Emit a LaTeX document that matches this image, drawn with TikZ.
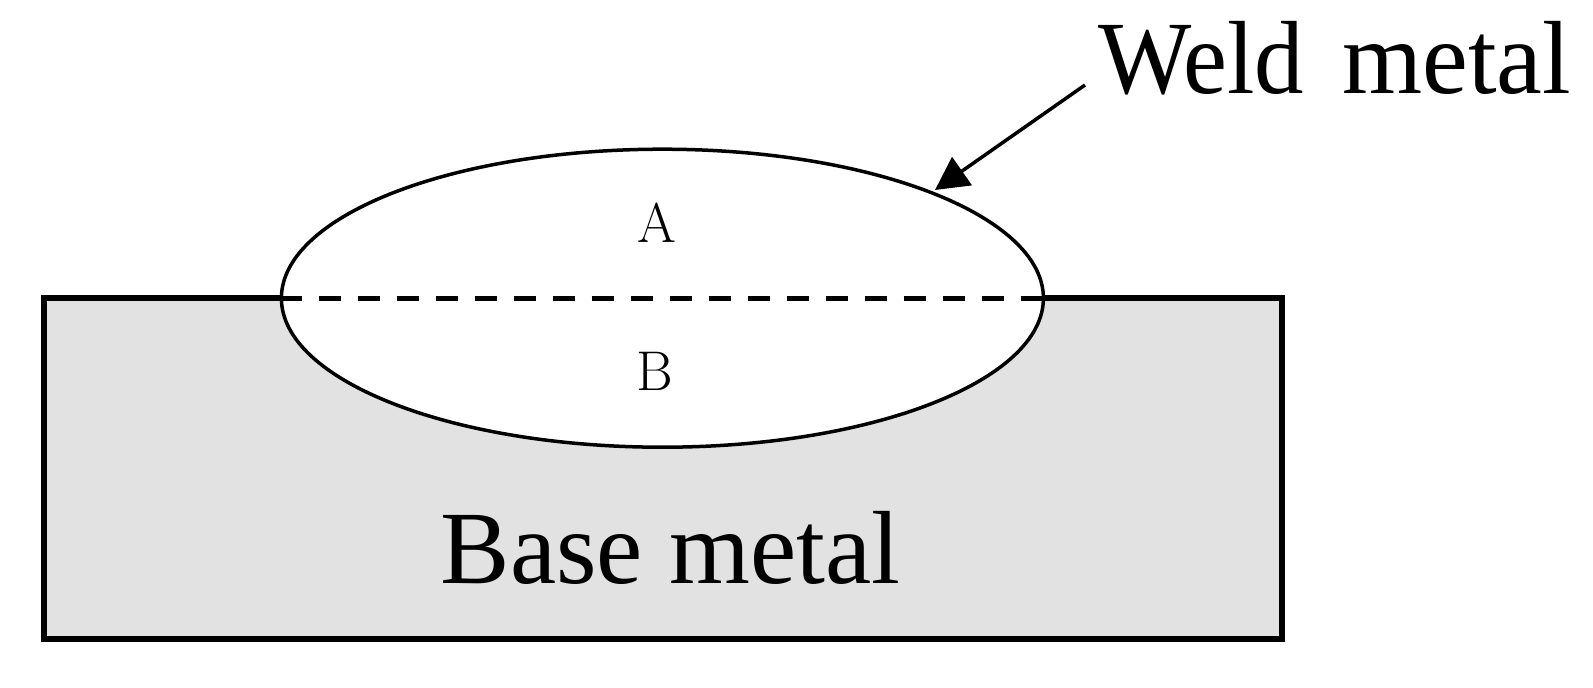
\documentclass[tikz,border=0pt]{standalone}
\usepackage{fontspec}
\usepackage{graphicx}
\newfontfamily\timesfont{Liberation Serif}
\usetikzlibrary{arrows.meta,shapes.geometric}
\definecolor{basegray}{RGB}{226,226,226}
\tikzset{
  basebox/.style={draw=black, line width=5.5pt, fill=basegray, minimum width=1238pt, minimum height=341pt, inner sep=0pt},
  weldshape/.style={ellipse, draw=black, line width=3.5pt, fill=white, minimum width=762pt, minimum height=298pt, inner sep=0pt},
  bigtext/.style={font=\timesfont\fontsize{104}{110}\selectfont, inner sep=0pt},
  zonetext/.style={font=\fontsize{56}{60}\selectfont, inner sep=0pt},
  pointer/.style={line width=3.5pt, -{Triangle[length=33pt,width=34pt]}}
}
\begin{document}
\begin{tikzpicture}[x=1pt,y=-1pt]
\useasboundingbox (0,0) rectangle (1593,688);
\node[basebox] (base) at (663,468.5) {};
\node[weldshape] (weld) at (662.4,298.2) {};
\draw[line width=5pt, dash pattern=on 22pt off 17pt] (weld.west) -- (weld.east);
\node[zonetext, anchor=base] (A) at (657,242) {A};
\node[zonetext, anchor=base] (B) at (655,390) {B};
\node[bigtext, anchor=base] (basel) at (670.5,583) {Base metal};
\node[bigtext, anchor=base west] (weldl) at (1098,93) {\scalebox{0.95}[1]{Weld}\hspace{38pt}\scalebox{0.99}[1]{metal}};
\coordinate (tail) at (1085,85);
\coordinate (tip) at (935,190);
\draw[pointer] (tail) -- (tip);
\end{tikzpicture}
\end{document}
